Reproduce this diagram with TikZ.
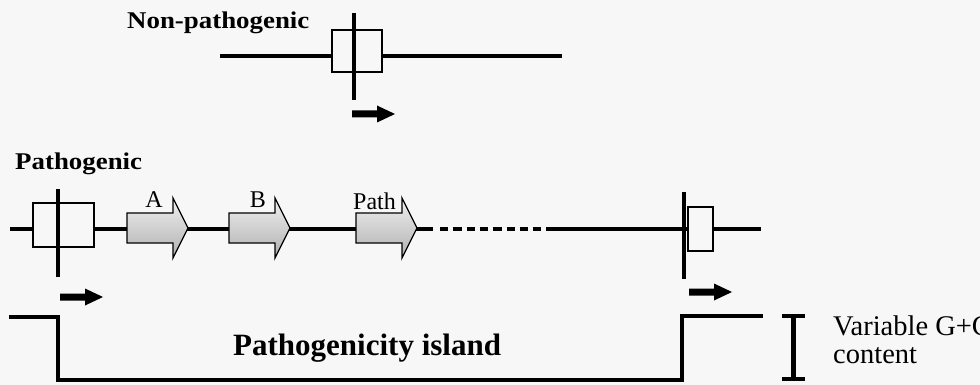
\documentclass[tikz,border=0pt]{standalone}
\usepackage{fontspec}
\setmainfont{Liberation Serif}
\newfontfamily\widefont[FakeStretch=1.12]{Liberation Serif}
\definecolor{paper}{RGB}{247,247,247}
\begin{document}
\begin{tikzpicture}[x=1pt,y=-1pt,
  dna/.style={line width=4.5pt},
  site/.style={draw=black,line width=1.4pt,fill=paper},
  marker/.style={line width=4.5pt},
  gcline/.style={line width=4pt,line join=miter},
  gene/.style={draw=black,line width=1.3pt,top color=gray!12,bottom color=gray!62},
  strainlabel/.style={inner sep=0pt,anchor=base west,font=\widefont\bfseries\fontsize{24}{28}\selectfont},
  genelabel/.style={inner sep=0pt,anchor=base,font=\fontsize{24}{28}\selectfont},
  txarrow/.pic={\fill (0,-3.5) -- (25,-3.5) -- (25,-8.5) -- (43,0) -- (25,8.5) -- (25,3.5) -- (0,3.5) -- cycle;},
  genearrow/.pic={\path[gene] (0,-15) -- (46,-15) -- (46,-30) -- (61,0) -- (46,30) -- (46,15) -- (0,15) -- cycle;},
]
% canvas
\fill[paper] (0,0) rectangle (980,385);
\useasboundingbox (0,0) rectangle (980,385);

% ---------- non-pathogenic strain ----------
\node[strainlabel] (nonpath) at (127,29) {Non-pathogenic};
\coordinate (np-l) at (220,56);
\coordinate (np-r) at (562,56);
\draw[dna] (np-l) -- (np-r);
\draw[site] (332,30) rectangle (382,72);
\draw[marker] (354,13) -- (354,100);
\pic at (352,114) {txarrow};

% ---------- pathogenic strain ----------
\node[strainlabel] (path) at (15,169) {Pathogenic};
\coordinate (p-l) at (10,229);
\coordinate (p-a) at (433,229);
\coordinate (p-b) at (440,229);
\coordinate (p-c) at (547,229);
\coordinate (p-r) at (761,229);
\draw[dna] (p-l) -- (p-a);
\draw[line width=4.5pt,dash pattern=on 8.3pt off 5pt] (p-b) -- (p-c);
\draw[dna] (p-c) -- (p-r);

% left insertion site
\draw[site] (33,203) rectangle (94,247);
\draw[marker] (58,189) -- (58,277);
\pic at (60,297) {txarrow};

% right insertion site
\draw[site] (688,207) rectangle (713,251);
\draw[marker] (684,192) -- (684,279);
\pic at (689,292) {txarrow};

% island genes
\pic at (127,228) {genearrow};
\pic at (229,228) {genearrow};
\pic at (356,228) {genearrow};
\node[genelabel] (geneA) at (154,207) {A};
\node[genelabel] (geneB) at (258,207) {B};
\node[genelabel,anchor=base west] (geneP) at (353,209) {Path};

% ---------- G+C content profile ----------
\draw[gcline] (9,317) -- (58,317) -- (58,380) -- (682,380) -- (682,316) -- (763,316);
\node[inner sep=0pt,anchor=base west,font=\bfseries\fontsize{31}{34}\selectfont] (island) at (233,355) {Pathogenicity island};

% scale bar
\draw[line width=5pt] (793,316) -- (793,379);
\draw[line width=4pt] (782,316) -- (805,316);
\draw[line width=4pt] (782,379) -- (805,379);
\node[inner sep=0pt,anchor=base west,align=left,font=\fontsize{28.5}{28}\selectfont] (gc) at (833,335) {Variable G+C};
\node[inner sep=0pt,anchor=base west,font=\fontsize{28.5}{28}\selectfont] (gc2) at (833,363) {content};
\end{tikzpicture}
\end{document}
